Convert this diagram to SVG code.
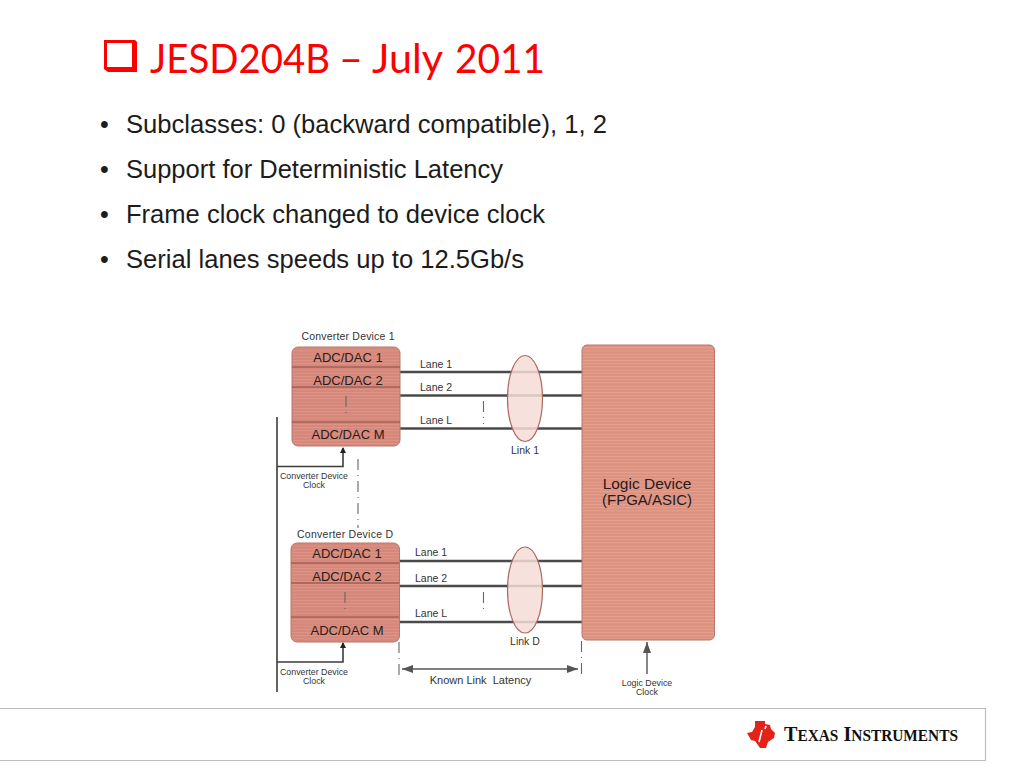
<svg xmlns="http://www.w3.org/2000/svg" width="1024" height="768" viewBox="0 0 1024 768">
<style>
.s{font-family:"Liberation Sans",Arial,sans-serif;fill:#333}
.b{font-size:25px;fill:#1c1c1c}
.n{font-size:13px;fill:#2a1a18}
.l{font-size:10.5px}
.c{font-size:8.8px}
.m{text-anchor:middle}
.t{font-family:Lato,Carlito,sans-serif;font-size:40px;fill:#f00}
.box{fill:url(#st);stroke:#b8776a;stroke-width:1}
.box2{fill:url(#st2);stroke:#b8776a;stroke-width:1}
.div{stroke:#8a4a3e;stroke-width:1;fill:none}
.lane{stroke:#4a4a4a;stroke-width:2.4;fill:none}
.wire{stroke:#3c3c3c;stroke-width:1.6;fill:none}
.dash{stroke:#666;stroke-width:1.1;stroke-dasharray:11 5 1 5;fill:none}
.ell{fill:#f4dcd7;fill-opacity:.85;stroke:#a86a60;stroke-width:1.2}
</style>
<defs>
<pattern id="st" width="4" height="3.2" patternUnits="userSpaceOnUse">
<rect width="4" height="3.2" fill="#d4877a"/>
<rect width="4" height="1" y="1.6" fill="#de9586"/>
</pattern>
<pattern id="st2" width="4" height="3.2" patternUnits="userSpaceOnUse">
<rect width="4" height="3.2" fill="#dc917f"/>
<rect width="4" height="1" y="1.6" fill="#e5a08f"/>
</pattern>
<marker id="a" markerWidth="7" markerHeight="7" refX="5" refY="3" orient="auto-start-reverse" markerUnits="userSpaceOnUse"><path d="M0 0L6 3L0 6z" fill="#222"/></marker>
<marker id="g" markerWidth="12" markerHeight="9" refX="11" refY="4" orient="auto-start-reverse" markerUnits="userSpaceOnUse"><path d="M0 0L11 4L0 8z" fill="#555"/></marker>
</defs>
<rect width="1024" height="768" fill="#fff"/>

<g id="title">
<path fill="#f00" fill-rule="evenodd" d="M104 40H135L137 42V72H108L104 69ZM107 43V67H132V43Z"/>
<text class="t" x="150" y="73" textLength="180" lengthAdjust="spacingAndGlyphs">JESD204B</text>
<text class="t" x="339" y="73" textLength="24" lengthAdjust="spacingAndGlyphs">–</text>
<text class="t" x="372" y="73" textLength="71" lengthAdjust="spacingAndGlyphs">July</text>
<text class="t" x="455" y="73" textLength="90" lengthAdjust="spacingAndGlyphs">2011</text>
</g>

<g id="bullets">
<text class="s b" x="100" y="133">•</text><text class="s b" x="126" y="133" textLength="481" lengthAdjust="spacingAndGlyphs">Subclasses: 0 (backward compatible), 1, 2</text>
<text class="s b" x="100" y="178">•</text><text class="s b" x="126" y="178" textLength="377" lengthAdjust="spacingAndGlyphs">Support for Deterministic Latency</text>
<text class="s b" x="100" y="223">•</text><text class="s b" x="126" y="223" textLength="419" lengthAdjust="spacingAndGlyphs">Frame clock changed to device clock</text>
<text class="s b" x="100" y="268">•</text><text class="s b" x="126" y="268" textLength="398" lengthAdjust="spacingAndGlyphs">Serial lanes speeds up to 12.5Gb/s</text>
</g>

<g id="connectors">
<path class="lane" d="M400 372H582M400 395.500H582M400 428.500H582"/>
<path class="lane" d="M399 561H582M399 586H582M399 622H582"/>
<path class="wire" d="M277 417V692"/>
<path class="wire" d="M277 466.500H343V448" marker-end="url(#a)"/>
<path class="wire" d="M277 662H343V643" marker-end="url(#a)"/>
<path class="dash" d="M358 459V528"/>
<path class="dash" d="M483.500 401V424"/>
<path class="dash" d="M483.500 592V614"/>
<path class="dash" d="M399 642V678"/>
<path class="dash" d="M581.500 641V676"/>
<path d="M402 669H578" fill="none" stroke="#555" stroke-width="1.4" marker-start="url(#g)" marker-end="url(#g)"/>
<path d="M647 674V642" fill="none" stroke="#555" stroke-width="1.4" marker-end="url(#g)"/>
</g>

<g id="device1">
<rect class="box" x="292" y="347" width="108" height="99" rx="6"/>
<path class="div" d="M292 367H400M292 387H400M292 422H400"/>
<path class="dash" d="M346 396V418"/>
<text class="s l m" x="348" y="340" textLength="93">Converter Device 1</text>
<text class="s n m" x="348" y="362">ADC/DAC 1</text>
<text class="s n m" x="348" y="385">ADC/DAC 2</text>
<text class="s n m" x="348" y="439">ADC/DAC M</text>
</g>

<g id="deviceD">
<rect class="box" x="291" y="543" width="108.500" height="99" rx="6"/>
<path class="div" d="M291 563H399M291 583H399M291 617H399"/>
<path class="dash" d="M345 592V614"/>
<text class="s l m" x="345" y="538" textLength="96">Converter Device D</text>
<text class="s n m" x="347" y="558">ADC/DAC 1</text>
<text class="s n m" x="347" y="581">ADC/DAC 2</text>
<text class="s n m" x="347" y="635">ADC/DAC M</text>
</g>

<g id="link1">
<ellipse class="ell" cx="525" cy="398.500" rx="17.500" ry="43"/>
<text class="s l m" x="525" y="454">Link 1</text>
</g>
<g id="linkD">
<ellipse class="ell" cx="525" cy="590" rx="17.500" ry="43"/>
<text class="s l m" x="525" y="645">Link D</text>
</g>

<g id="logic">
<rect class="box2" x="582" y="345" width="132.500" height="295" rx="5"/>
<text class="s n m" x="647" y="489" style="font-size:15.500px">Logic Device</text>
<text class="s n m" x="647" y="505" style="font-size:15px">(FPGA/ASIC)</text>
</g>

<g id="labels">
<text class="s l" x="420" y="368">Lane 1</text>
<text class="s l" x="420" y="391">Lane 2</text>
<text class="s l" x="420" y="424">Lane L</text>
<text class="s l" x="415" y="556">Lane 1</text>
<text class="s l" x="415" y="582">Lane 2</text>
<text class="s l" x="415" y="617">Lane L</text>
<text class="s c m" x="314" y="479">Converter Device</text>
<text class="s c m" x="314" y="488">Clock</text>
<text class="s c m" x="314" y="675">Converter Device</text>
<text class="s c m" x="314" y="684">Clock</text>
<text class="s c m" x="647" y="686">Logic Device</text>
<text class="s c m" x="647" y="695">Clock</text>
<text class="s m" x="480.500" y="684" style="font-size:11px" xml:space="preserve">Known Link  Latency</text>
</g>

<g id="footer">
<path d="M0 708.500H985.500V760.500H0" fill="none" stroke="#bdbdbd" stroke-width="1.200"/>
<path fill="#e2231a" d="M747 733L752 732L755 727V721H765V724L770 725L771 729L775 733L774 738L768 742L766 748H760L755 741L751 740Z"/>
<path d="M762 730L759 742M766 726L765 729" stroke="#fff" stroke-width="1.600" fill="none"/>
<text x="784" y="741" font-family="'Liberation Serif',serif" font-weight="bold" fill="#111" font-size="21" textLength="174" lengthAdjust="spacingAndGlyphs">T<tspan font-size="16">EXAS</tspan> I<tspan font-size="16">NSTRUMENTS</tspan></text>
</g>
</svg>
